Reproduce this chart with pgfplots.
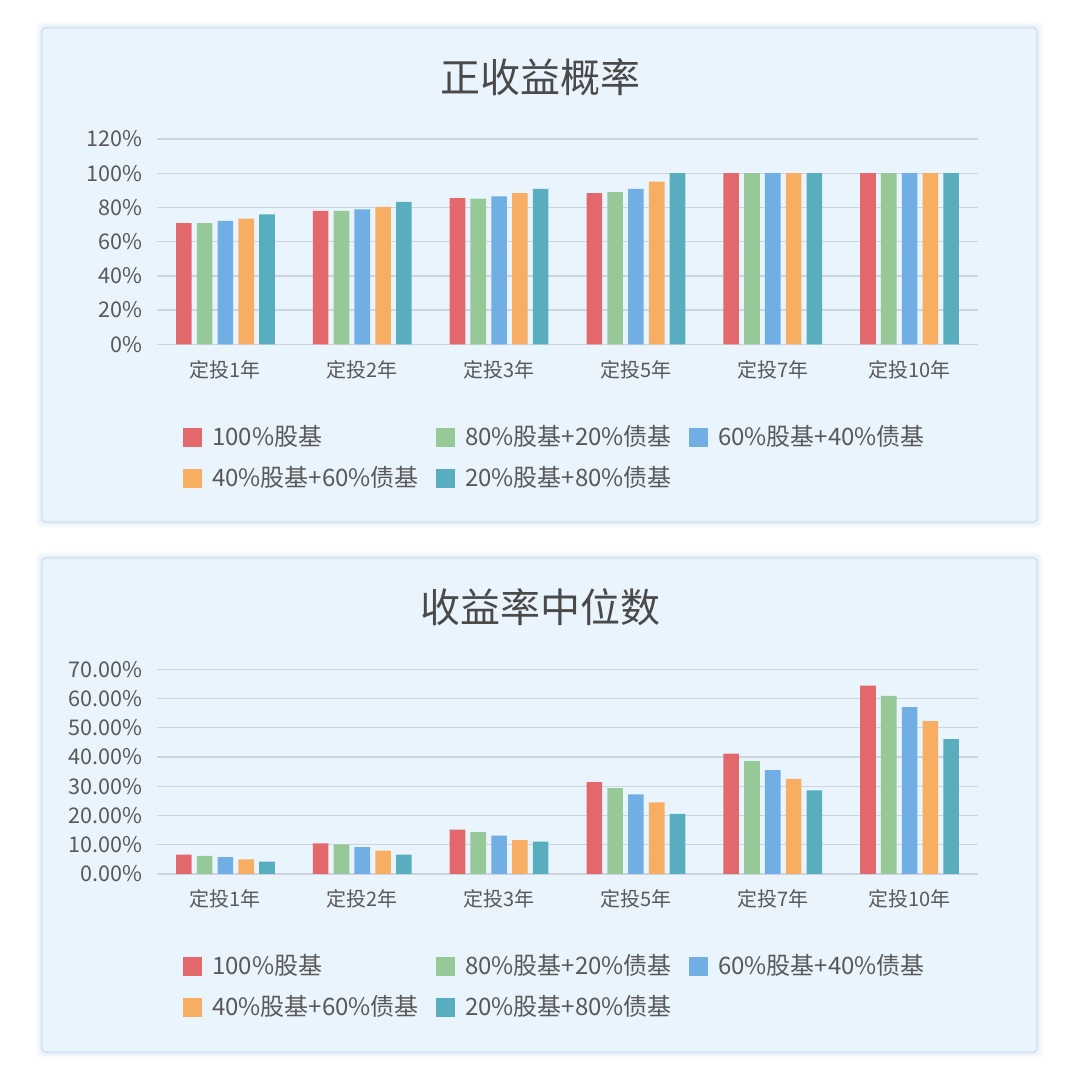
\documentclass[border=0pt]{standalone}
\usepackage{fontspec}
\setmainfont{Noto Sans CJK SC}
\usepackage{pgfplots}
\pgfplotsset{compat=1.18}
\definecolor{cRed}{HTML}{E3686B}
\definecolor{cGreen}{HTML}{97C897}
\definecolor{cBlue}{HTML}{70AEE4}
\definecolor{cOrange}{HTML}{F7AE63}
\definecolor{cTeal}{HTML}{58AEBF}
\definecolor{panel}{HTML}{EAF4FD}
\definecolor{panelborder}{HTML}{CFE0F2}
\definecolor{gridc}{HTML}{CDD4DF}
\definecolor{txt}{HTML}{595959}
\definecolor{ttl}{HTML}{4A4A4A}
\pgfplotsset{mybars/.style={
  scale only axis, width=410.5pt, xmin=-0.5, xmax=5.5,
  ybar=2.6pt, bar width=7.8pt,
  xtick={0,...,5}, xticklabels={定投1年,定投2年,定投3年,定投5年,定投7年,定投10年},
  axis line style={draw=none}, major tick length=0pt,
  ymajorgrids, grid style={gridc, line width=0.7pt},
  tick label style={text=txt},
  xticklabel style={font=\fontsize{10pt}{12pt}\selectfont, inner sep=0pt, anchor=base, yshift=-16.5pt},
  yticklabel style={font=\fontsize{10.8pt}{13pt}\selectfont, inner sep=0pt, anchor=east, xshift=-7pt},
  legend columns=3,
  legend image code/.code={\fill[##1] (0pt,-0.7pt) rectangle (9.5pt,8.8pt);},
  legend style={draw=none, fill=none, inner sep=0pt, column sep=4.85pt, row sep=8pt,
    at={(0,0)}, anchor=north west, xshift=13pt, yshift=-41.85pt,
    font=\fontsize{12pt}{14pt}\selectfont, text=txt,
    nodes={inner sep=0pt, anchor=base west, text height=8.5pt, text depth=3.5pt}},
}}
\newcommand{\panelbox}[2]{%
  \foreach \d/\o in {3/0.12, 2/0.18, 1/0.3}{%
    \fill[panelborder, opacity=\o, rounded corners=3pt] ({(21-\d)*1pt},{(#1-\d)*1pt}) rectangle ({(518.5+\d)*1pt},{(#2+\d)*1pt});}
  \fill[panel, rounded corners=2pt] (21pt,#1pt) rectangle (518.5pt,#2pt);
  \draw[panelborder, line width=0.6pt, rounded corners=2pt] (21pt,#1pt) rectangle (518.5pt,#2pt);
}
\begin{document}
\begin{tikzpicture}
\useasboundingbox (0,0) rectangle (540pt,540.5pt);
\fill[white] (0,0) rectangle (540pt,540.5pt);
\panelbox{279.5}{526.5}
\panelbox{14.5}{261.5}
\node[text=ttl, font=\fontsize{20pt}{24pt}\selectfont, inner sep=0pt] at (270pt,501.75pt) {正收益概率};
\node[text=ttl, font=\fontsize{20pt}{24pt}\selectfont, inner sep=0pt] at (270pt,237pt) {收益率中位数};
\begin{axis}[mybars, at={(78.5pt,368.35pt)}, anchor=south west, height=102.65pt,
  ymin=0, ymax=120, ytick={0,20,...,120},
  yticklabels={0\%,20\%,40\%,60\%,80\%,100\%,120\%}]
\addplot[fill=cRed, draw=none] coordinates {(0,70.8) (1,78.0) (2,85.4) (3,88.3) (4,100) (5,100)};
\addplot[fill=cGreen, draw=none] coordinates {(0,70.8) (1,78.0) (2,85.2) (3,88.9) (4,100) (5,100)};
\addplot[fill=cBlue, draw=none] coordinates {(0,72.1) (1,78.9) (2,86.4) (3,90.8) (4,100) (5,100)};
\addplot[fill=cOrange, draw=none] coordinates {(0,73.5) (1,80.3) (2,88.3) (3,95.1) (4,100) (5,100)};
\addplot[fill=cTeal, draw=none] coordinates {(0,76.0) (1,83.2) (2,90.8) (3,100) (4,100) (5,100)};
\legend{\makebox[107.3pt][l]{100\%股基},\makebox[107.3pt][l]{80\%股基+20\%债基},\makebox[107.3pt][l]{60\%股基+40\%债基},\makebox[107.3pt][l]{40\%股基+60\%债基},\makebox[107.3pt][l]{20\%股基+80\%债基}}
\end{axis}
\begin{axis}[mybars, at={(78.5pt,103.5pt)}, anchor=south west, height=102.35pt,
  ymin=0, ymax=70, ytick={0,10,...,70},
  yticklabels={0.00\%,10.00\%,20.00\%,30.00\%,40.00\%,50.00\%,60.00\%,70.00\%},
  legend style={yshift=0.35pt}]
\addplot[fill=cRed, draw=none] coordinates {(0,6.6) (1,10.5) (2,15.2) (3,31.4) (4,41.2) (5,64.4)};
\addplot[fill=cGreen, draw=none] coordinates {(0,6.2) (1,10.1) (2,14.3) (3,29.4) (4,38.6) (5,60.9)};
\addplot[fill=cBlue, draw=none] coordinates {(0,5.8) (1,9.2) (2,13.1) (3,27.2) (4,35.5) (5,57.1)};
\addplot[fill=cOrange, draw=none] coordinates {(0,5.0) (1,8.0) (2,11.6) (3,24.5) (4,32.5) (5,52.3)};
\addplot[fill=cTeal, draw=none] coordinates {(0,4.2) (1,6.6) (2,11.1) (3,20.6) (4,28.6) (5,46.1)};
\legend{\makebox[107.3pt][l]{100\%股基},\makebox[107.3pt][l]{80\%股基+20\%债基},\makebox[107.3pt][l]{60\%股基+40\%债基},\makebox[107.3pt][l]{40\%股基+60\%债基},\makebox[107.3pt][l]{20\%股基+80\%债基}}
\end{axis}
\end{tikzpicture}
\end{document}
